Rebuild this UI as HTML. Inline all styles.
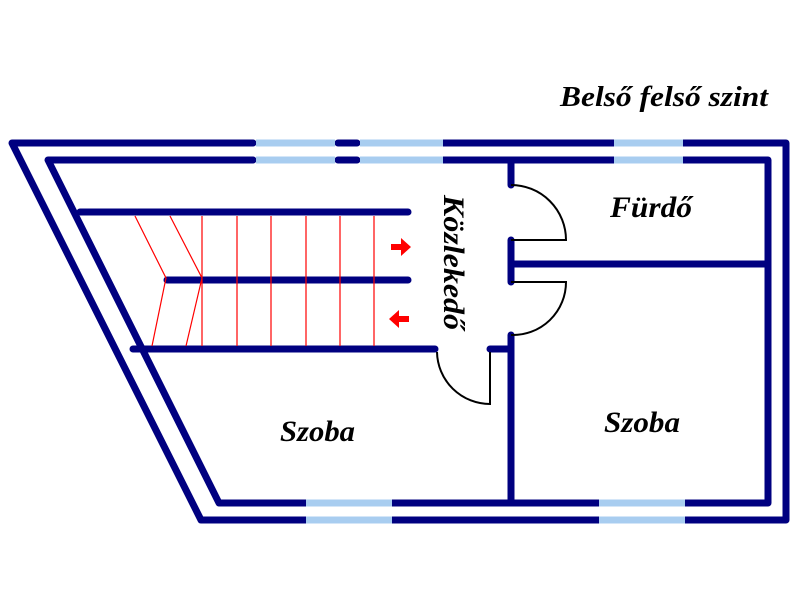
<!DOCTYPE html>
<html><head><meta charset="utf-8"><style>
html,body{margin:0;padding:0;background:#fff;width:800px;height:600px;overflow:hidden}
text{font-family:"Liberation Serif",serif;font-weight:bold;font-style:italic;fill:#000}
</style></head><body>
<svg width="800" height="600" viewBox="0 0 800 600" xmlns="http://www.w3.org/2000/svg">
<g stroke="#000080" stroke-width="7" fill="none" stroke-linecap="round" stroke-linejoin="round">
<polyline points="253,143 12,143 201,520 306,520"/>
<polyline points="392,520 599,520"/>
<polyline points="685,520 786,520 786,143 683,143"/>
<polyline points="614,143 443,143"/>
<polyline points="253,160 48,160 219,503 306,503"/>
<polyline points="392,503 599,503"/>
<polyline points="685,503 768,503 768,160 683,160"/>
<polyline points="614,160 443,160"/>
<line x1="338" y1="143" x2="357" y2="143"/>
<line x1="338" y1="160" x2="357" y2="160"/>
<line x1="511" y1="160" x2="511" y2="185"/>
<line x1="511" y1="240" x2="511" y2="282"/>
<line x1="511" y1="335" x2="511" y2="503"/>
<line x1="511" y1="264" x2="768" y2="264"/>
<line x1="80" y1="212" x2="408" y2="212"/>
<line x1="167" y1="280" x2="408" y2="280"/>
<line x1="133" y1="349" x2="435" y2="349"/>
<line x1="490" y1="349" x2="511" y2="349"/>
</g>
<g stroke="#a8cdf0" stroke-width="7">
<line x1="256" y1="143" x2="335" y2="143"/><line x1="360" y1="143" x2="443" y2="143"/>
<line x1="256" y1="160" x2="335" y2="160"/><line x1="360" y1="160" x2="443" y2="160"/>
<line x1="614" y1="143" x2="683" y2="143"/><line x1="614" y1="160" x2="683" y2="160"/>
<line x1="306" y1="520" x2="392" y2="520"/><line x1="306" y1="503" x2="392" y2="503"/>
<line x1="599" y1="520" x2="685" y2="520"/><line x1="599" y1="503" x2="685" y2="503"/>
</g>
<g stroke="#ff0000" stroke-width="1.2" fill="none">
<line x1="202" y1="216" x2="202" y2="346"/>
<line x1="237" y1="216" x2="237" y2="346"/>
<line x1="271" y1="216" x2="271" y2="346"/>
<line x1="306" y1="216" x2="306" y2="346"/>
<line x1="340" y1="216" x2="340" y2="346"/>
<line x1="374" y1="216" x2="374" y2="346"/>
<polyline points="135,216 166,278 152,346"/>
<polyline points="170,216 202,278 186,346"/>
</g>
<g fill="#ff0000">
<polygon points="391,244 401,244 401,238 411,247 401,256 401,250 391,250"/>
<polygon points="409,316 399,316 399,310 389,319 399,328 399,322 409,322"/>
</g>
<g stroke="#000" stroke-width="2" fill="none">
<path d="M511,185 A55,55 0 0 1 566,240 L511,240"/>
<path d="M511,282 L566,282 A53,53 0 0 1 511,335"/>
<path d="M437,352 A53,53 0 0 0 490,404 L490,352"/>
</g>
<text x="560" y="106" font-size="29" textLength="208" lengthAdjust="spacingAndGlyphs">Belső felső szint</text>
<text x="610" y="217" font-size="30" textLength="82" lengthAdjust="spacingAndGlyphs">Fürdő</text>
<text x="280" y="441" font-size="30" textLength="75" lengthAdjust="spacingAndGlyphs">Szoba</text>
<text x="604" y="432" font-size="30" textLength="76" lengthAdjust="spacingAndGlyphs">Szoba</text>
<text transform="translate(444,195) rotate(90)" font-size="30" textLength="135" lengthAdjust="spacingAndGlyphs">Közlekedő</text>
</svg>
</body></html>
